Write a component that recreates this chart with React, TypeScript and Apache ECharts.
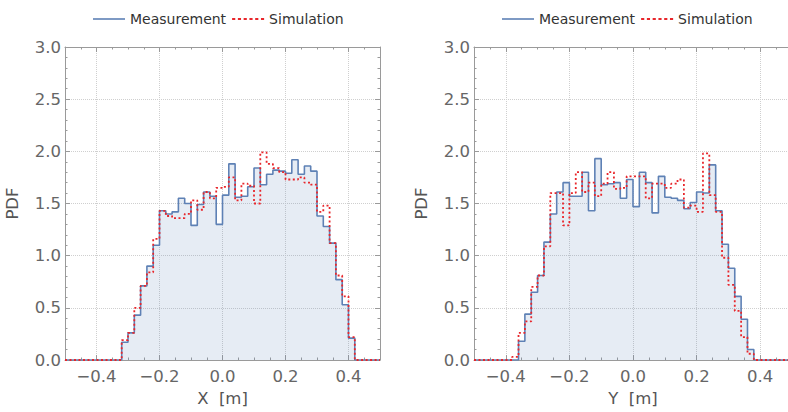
import React, { useEffect, useRef } from "react";
import * as echarts from "echarts";

// Histogram bin width and bin-left-edge starts (metres)
const BIN = 0.02;
const xStart = -0.32;
const yStart = -0.38;

// PDF per bin, X coordinate
const xMeasurement = [
  0.17, 0.26, 0.43, 0.71, 0.9, 1.1, 1.43, 1.4, 1.42, 1.55, 1.5, 1.29, 1.49, 1.61, 1.57, 1.3, 1.58, 1.88, 1.56,
  1.57, 1.66, 1.84, 1.68, 1.78, 1.82, 1.81, 1.79, 1.92, 1.78, 1.86, 1.81, 1.38, 1.28, 1.12, 0.77, 0.53, 0.21,
];
const xSimulation = [
  0.19, 0.26, 0.5, 0.71, 0.84, 1.16, 1.43, 1.38, 1.36, 1.36, 1.4, 1.53, 1.44, 1.61, 1.55, 1.65, 1.66, 1.75, 1.53,
  1.69, 1.67, 1.5, 1.99, 1.88, 1.84, 1.8, 1.73, 1.73, 1.75, 1.7, 1.68, 1.42, 1.48, 1.12, 0.81, 0.61, 0.22,
];

// PDF per bin, Y coordinate
const yMeasurement = [
  0, 0.18, 0.44, 0.65, 0.81, 1.13, 1.4, 1.61, 1.7, 1.57, 1.57, 1.8, 1.43, 1.93, 1.68, 1.69, 1.7, 1.55, 1.73,
  1.47, 1.8, 1.7, 1.41, 1.76, 1.56, 1.55, 1.53, 1.45, 1.51, 1.61, 1.6, 1.87, 1.43, 1.11, 0.88, 0.61, 0.39, 0.1,
];
const ySimulation = [
  0.03, 0.26, 0.37, 0.7, 0.81, 1.09, 1.6, 1.6, 1.29, 1.6, 1.8, 1.61, 1.7, 1.57, 1.69, 1.8, 1.64, 1.65, 1.76,
  1.76, 1.76, 1.55, 1.69, 1.69, 1.65, 1.69, 1.73, 1.46, 1.48, 1.42, 1.98, 1.58, 1.42, 0.98, 0.72, 0.47, 0.22, 0.06,
];

const seriesNames = ["Measurement", "Simulation"];
const axisTitles = ["X  [m]", "Y  [m]"];
const yTitle = "PDF";
const xLabelValues = [-0.4, -0.2, 0, 0.2, 0.4];

const FONT = "DejaVu Sans";
const FRAME = "#9a9a9a";
const GRID_LINE = "#cfcfcf";
const BLUE = "#5E81B5";
const RED = "#e8262b";

// Legend swatches: solid stroke and dotted stroke
const ICON_SOLID = "path://M0,0h32v1.6h-32z";
const ICON_DOTTED =
  "path://M0,0h3v2h-3z M5.5,0h3v2h-3z M11,0h3v2h-3z M16.5,0h3v2h-3z M22,0h3v2h-3z M27.5,0h3v2h-3z";

// Step-line points: flat zero outside, one point per bin left edge
function stepPoints(start: number, values: number[]): number[][] {
  const pts: number[][] = [[-0.5, 0]];
  values.forEach((v, i) => pts.push([+(start + i * BIN).toFixed(3), v]));
  pts.push([+(start + values.length * BIN).toFixed(3), 0]);
  pts.push([0.5, 0]);
  return pts;
}

function fmtX(v: number): string {
  const r = Math.round(v * 100);
  if (!xLabelValues.some((t) => Math.round(t * 100) === r)) return "";
  return v < 0 ? "\u2212" + Math.abs(v).toFixed(1) : v.toFixed(1);
}

export default function App() {
  const ref = useRef<HTMLDivElement>(null);

  useEffect(() => {
    if (!ref.current) return;
    const chart = echarts.init(ref.current, undefined, { renderer: "svg" });

    const grids = [
      { left: 65, top: 47, width: 315, height: 313 },
      { left: 474, top: 47, width: 318, height: 313 },
    ];
    const legendLeft = [88, 497];

    const xAxes: any[] = [];
    const yAxes: any[] = [];
    const series: any[] = [];
    const legends: any[] = [];

    const panels = [
      { meas: stepPoints(xStart, xMeasurement), sim: stepPoints(xStart, xSimulation) },
      { meas: stepPoints(yStart, yMeasurement), sim: stepPoints(yStart, ySimulation) },
    ];

    panels.forEach((p, g) => {
      const base = { gridIndex: g, type: "value", min: -0.5, max: 0.5 };
      const noLine = { show: false, onZero: false };
      // bottom: frame, major ticks, labels, grid lines
      xAxes.push({
        ...base,
        position: "bottom",
        splitNumber: 5,
        axisLine: { show: true, onZero: false, lineStyle: { color: FRAME, width: 1 } },
        axisTick: { show: true, inside: true, length: 5, lineStyle: { color: FRAME } },
        axisLabel: { formatter: fmtX, margin: 8, fontSize: 16.5, color: "#666", fontFamily: FONT },
        splitLine: { show: true, lineStyle: { color: GRID_LINE, type: "dotted", width: 1 } },
        name: axisTitles[g],
        nameLocation: "middle",
        nameGap: 27,
        nameTextStyle: { fontSize: 16.5, color: "#555", fontFamily: FONT },
      });
      // bottom minor ticks
      xAxes.push({
        ...base,
        position: "bottom",
        interval: 0.05,
        axisLine: noLine,
        axisTick: { show: true, inside: true, length: 2.5, lineStyle: { color: FRAME } },
        axisLabel: { show: false },
        splitLine: { show: false },
      });
      // top frame with mirrored ticks
      xAxes.push({
        ...base,
        position: "top",
        splitNumber: 5,
        axisLine: { show: true, onZero: false, lineStyle: { color: FRAME, width: 1 } },
        axisTick: { show: true, inside: true, length: 5, lineStyle: { color: FRAME } },
        axisLabel: { show: false },
        splitLine: { show: false },
      });
      xAxes.push({
        ...base,
        position: "top",
        interval: 0.05,
        axisLine: noLine,
        axisTick: { show: true, inside: true, length: 2.5, lineStyle: { color: FRAME } },
        axisLabel: { show: false },
        splitLine: { show: false },
      });

      const ybase = {
        gridIndex: g,
        type: "value",
        min: 0,
        max: 3,
        interval: 0.5,
        axisLine: { show: true, onZero: false, lineStyle: { color: FRAME, width: 1 } },
        axisTick: { show: true, inside: true, length: 5, lineStyle: { color: FRAME } },
        minorTick: { show: true, splitNumber: 5, length: 2.5, lineStyle: { color: FRAME } },
      };
      yAxes.push({
        ...ybase,
        position: "left",
        axisLabel: {
          formatter: (v: number) => v.toFixed(1),
          margin: 4,
          fontSize: 16.5,
          color: "#666",
          fontFamily: FONT,
        },
        splitLine: {
          show: true,
          showMinLine: false,
          showMaxLine: false,
          lineStyle: { color: GRID_LINE, type: "dotted", width: 1 },
        },
        name: yTitle,
        nameLocation: "middle",
        nameGap: 44,
        nameTextStyle: { fontSize: 16.5, color: "#555", fontFamily: FONT },
      });
      // right frame (the second panel's lies past the page edge)
      yAxes.push({
        ...ybase,
        show: g === 0,
        position: "right",
        axisLabel: { show: false },
        splitLine: { show: false },
      });

      series.push({
        type: "line",
        name: seriesNames[0],
        xAxisIndex: g * 4,
        yAxisIndex: g * 2,
        data: p.meas,
        step: "end",
        symbol: "none",
        showSymbol: false,
        lineStyle: { color: BLUE, width: 1.6 },
        itemStyle: { color: BLUE },
        areaStyle: { color: "rgba(94,129,181,0.22)", origin: "start" },
        z: 3,
      });
      series.push({
        type: "line",
        name: seriesNames[1],
        xAxisIndex: g * 4,
        yAxisIndex: g * 2,
        data: p.sim,
        step: "end",
        symbol: "none",
        showSymbol: false,
        lineStyle: { color: RED, width: 1.8, type: [2, 2.5] },
        itemStyle: { color: RED },
        z: 4,
      });

      legends.push({
        left: legendLeft[g],
        top: 7,
        data: [
          { name: seriesNames[0], icon: ICON_SOLID, itemStyle: { color: BLUE, borderWidth: 0 } },
          { name: seriesNames[1], icon: ICON_DOTTED, itemStyle: { color: RED, borderWidth: 0 } },
        ],
        itemWidth: 32,
        itemHeight: 14,
        itemGap: 6,
        selectedMode: false,
        itemStyle: { borderWidth: 0 },
        textStyle: { fontSize: 14, color: "#333", fontFamily: FONT },
      });
    });

    chart.setOption({
      animation: false,
      backgroundColor: "#ffffff",
      textStyle: { fontFamily: FONT },
      grid: grids.map((r) => ({ ...r, containLabel: false, outerBoundsMode: "none" })),
      xAxis: xAxes,
      yAxis: yAxes,
      legend: legends,
      series,
    });

    return () => chart.dispose();
  }, []);

  return (
    <div
      ref={ref}
      style={{ position: "absolute", left: 0, top: 0, width: 788, height: 412 }}
    />
  );
}
